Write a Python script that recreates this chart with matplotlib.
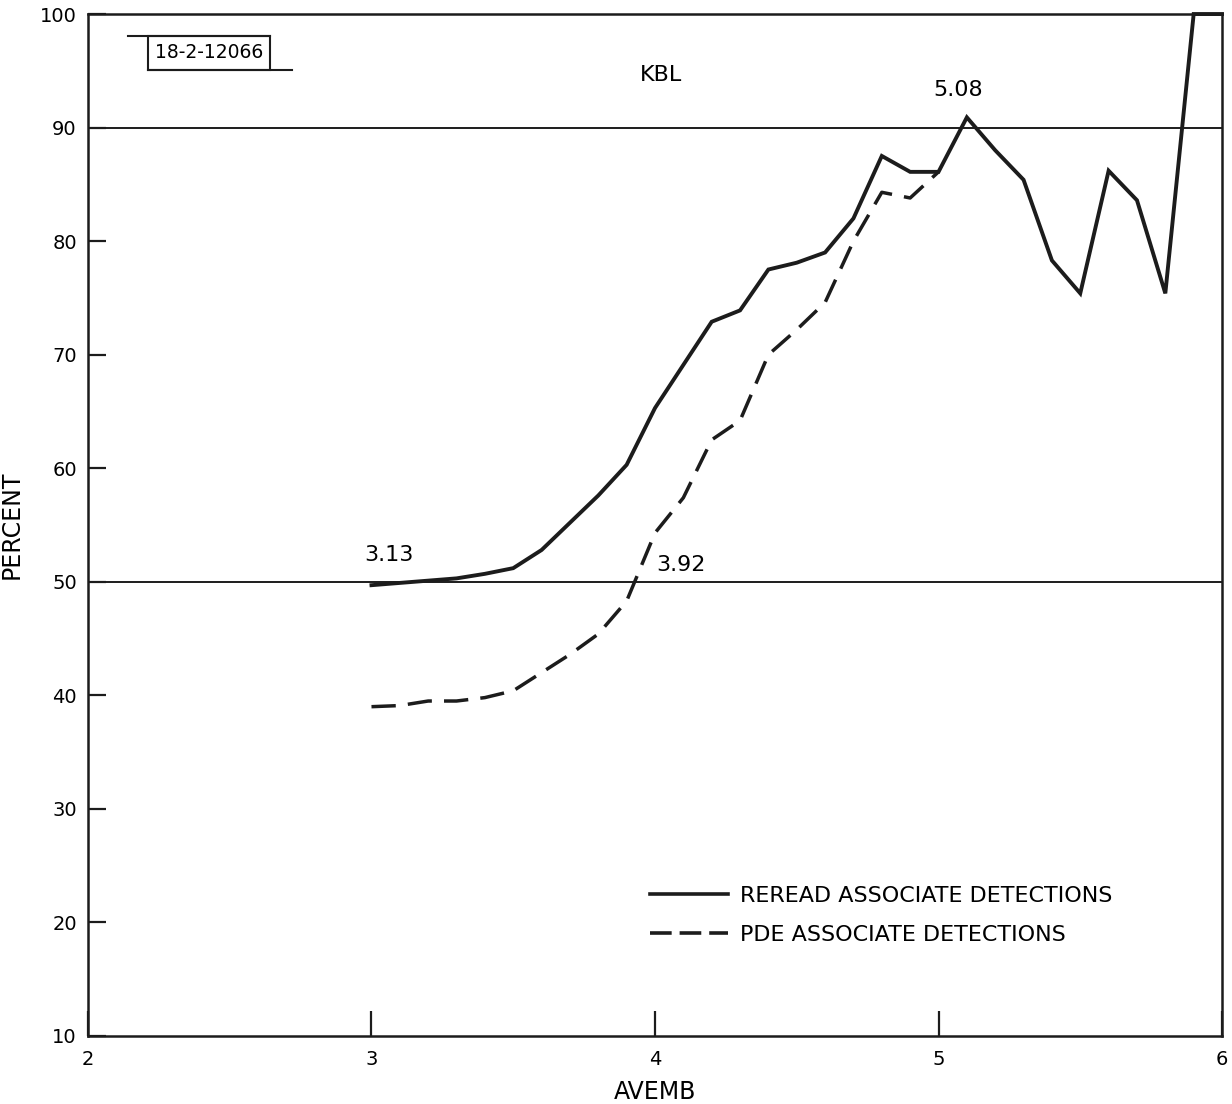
import numpy as np
import matplotlib
matplotlib.use("Agg")
import matplotlib.pyplot as plt
from matplotlib.lines import Line2D
from matplotlib.patches import Rectangle

avemb_reread = [3.0, 3.1, 3.2, 3.3, 3.4, 3.5, 3.6, 3.7, 3.8, 3.9, 4.0,
                4.1, 4.2, 4.3, 4.4, 4.5, 4.6, 4.7, 4.8, 4.9, 5.0,
                5.1, 5.2, 5.3, 5.4, 5.5, 5.6, 5.7, 5.8, 5.9, 6.0]
pct_reread = [49.7, 49.9, 50.1, 50.3, 50.7, 51.2, 52.8, 55.2, 57.6, 60.3, 65.3,
              69.1, 72.9, 73.9, 77.5, 78.1, 79.0, 82.0, 87.5, 86.1, 86.1,
              90.9, 88.0, 85.4, 78.3, 75.4, 86.2, 83.6, 75.4, 100.0, 100.0]

avemb_pde = [3.0, 3.1, 3.2, 3.3, 3.4, 3.5, 3.6, 3.7, 3.8, 3.9, 4.0,
             4.1, 4.2, 4.3, 4.4, 4.5, 4.6, 4.7, 4.8, 4.9, 5.0]
pct_pde = [39.0, 39.1, 39.5, 39.5, 39.8, 40.4, 42.0, 43.6, 45.4, 48.3, 54.3,
           57.4, 62.5, 64.2, 70.0, 72.2, 74.6, 80.0, 84.3, 83.8, 86.1]

ref_levels = [50, 90]
xticks = [2, 3, 4, 5, 6]
yticks = [10, 20, 30, 40, 50, 60, 70, 80, 90, 100]

ink = "#1c1c1c"

fig = plt.figure(figsize=(12.32, 11.04), dpi=100)
ax = fig.add_axes([0.0714, 0.0616, 0.9205, 0.9257])

for lev in ref_levels:
    ax.axhline(lev, color=ink, lw=1.4, zorder=1)

ax.plot(avemb_reread, pct_reread, color=ink, lw=2.8,
        solid_joinstyle="miter", clip_on=False, zorder=3)
ax.plot(avemb_pde, pct_pde, color=ink, lw=2.5,
        dashes=(7, 3.5), zorder=3)

ax.set_xlim(2, 6)
ax.set_ylim(10, 100)
ax.set_xticks(xticks)
ax.set_yticks(yticks)
ax.tick_params(axis="x", direction="in", length=18, width=1.6,
               labelsize=14, pad=10, color=ink)
ax.tick_params(axis="y", direction="in", length=13, width=1.6,
               labelsize=14, pad=8, color=ink)
for s in ax.spines.values():
    s.set_linewidth(1.8)
    s.set_color(ink)

ax.set_xlabel("AVEMB", fontsize=17, labelpad=8)
ax.set_ylabel("PERCENT", fontsize=17, labelpad=12)

ax.text(3.06, 52.4, "3.13", fontsize=16, ha="center", va="center")
ax.text(4.09, 51.5, "3.92", fontsize=16, ha="center", va="center")
ax.text(5.07, 93.3, "5.08", fontsize=16, ha="center", va="center")
ax.text(4.02, 94.6, "KBL", fontsize=16, ha="center", va="center")

# stamped ID box, figure pixel coordinates converted to fractions
W, H = 1232, 1104
fig.patches.append(Rectangle((148 / W, 1 - 70 / H), 122 / W, 34 / H,
                             transform=fig.transFigure, fill=False,
                             lw=1.5, ec=ink))
fig.lines.append(Line2D([128 / W, 270 / W], [1 - 36 / H, 1 - 36 / H],
                        transform=fig.transFigure, lw=1.5, color=ink))
fig.lines.append(Line2D([148 / W, 292 / W], [1 - 70 / H, 1 - 70 / H],
                        transform=fig.transFigure, lw=1.5, color=ink))
fig.text(209 / W, 1 - 53 / H, "18-2-12066", fontsize=13.5, ha="center",
         va="center")

handles = [Line2D([], [], color=ink, lw=2.6),
           Line2D([], [], color=ink, lw=2.6, dashes=(6, 2.2))]
ax.legend(handles, ["REREAD ASSOCIATE DETECTIONS", "PDE ASSOCIATE DETECTIONS"],
          loc="upper left", bbox_to_anchor=(0.496, 0.147), frameon=False,
          fontsize=16, handlelength=3.5, handletextpad=0.55, labelspacing=0.85,
          borderpad=0, borderaxespad=0)

fig.savefig("out.png", dpi=100)
